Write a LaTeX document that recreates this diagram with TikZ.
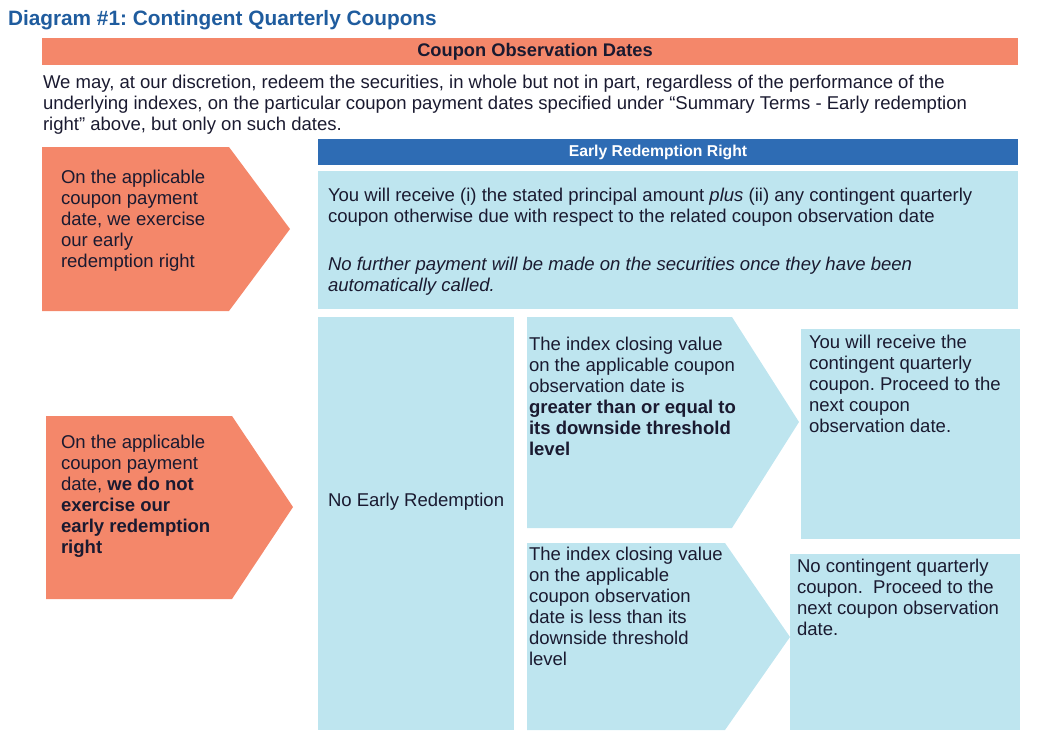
\documentclass[tikz,border=0pt]{standalone}
\usepackage{fontspec}
\setmainfont{Liberation Sans}
\definecolor{salmon}{RGB}{244,135,106}
\definecolor{lblue}{RGB}{190,229,239}
\definecolor{barblue}{RGB}{46,108,180}
\definecolor{titleblue}{RGB}{31,92,158}
\definecolor{txt}{RGB}{26,26,48}
\frenchspacing
\begin{document}
\begin{tikzpicture}[x=0.75pt,y=-0.75pt,
  every node/.style={inner sep=0pt, outer sep=0pt},
  body/.style={text=txt, align=left, anchor=north west, font=\fontsize{13.9}{15.75}\selectfont},
  orangefill/.style={fill=salmon},
  bluefill/.style={fill=lblue}]
\useasboundingbox (0,0) rectangle (1040,743);

% title
\node[anchor=base west, text=titleblue, font=\bfseries\fontsize{15.6}{18}\selectfont] (title) at (8,25) {Diagram \#1: Contingent Quarterly Coupons};

% header bar
\fill[orangefill] (42,38) rectangle (1018,65);
\node[text=txt, font=\bfseries\fontsize{13.7}{15.75}\selectfont] (hdr) at (535,52) {Coupon Observation Dates};

% paragraph
\node[body] (para) at (43,75) {We may, at our discretion, redeem the securities, in whole but not in part, regardless of the performance of the\\
underlying indexes, on the particular coupon payment dates specified under “Summary Terms - Early redemption\\
right” above, but only on such dates.};

% left pentagons
\fill[orangefill] (42,147) -- (229,147) -- (290,229) -- (229,311) -- (42,311) -- cycle;
\node[body] (ex) at (61,170) {On the applicable\\coupon payment\\date, we exercise\\our early\\redemption right};

\fill[orangefill] (46,416) -- (232,416) -- (293,507) -- (232,599) -- (46,599) -- cycle;
\node[body] (noex) at (61,435) {On the applicable\\coupon payment\\date, \textbf{we do not}\\\textbf{exercise our}\\\textbf{early redemption}\\\textbf{right}};

% early redemption right
\fill[barblue] (318,139) rectangle (1018,165);
\node[text=white, font=\bfseries\fontsize{11.8}{14}\selectfont] (err) at (658,152) {Early Redemption Right};

\fill[bluefill] (318,171) rectangle (1018,309);
\node[body] (recv) at (328,188) {You will receive (i) the stated principal amount \textit{plus} (ii) any contingent quarterly\\coupon otherwise due with respect to the related coupon observation date};
\node[body, font=\itshape\fontsize{13.9}{15.75}\selectfont] (nofurther) at (328,257) {No further payment will be made on the securities once they have been\\automatically called.};

% no early redemption
\fill[bluefill] (318,317) rectangle (514,730);
\node[body] (ner) at (328,493) {No Early Redemption};

% chevrons
\fill[bluefill] (527,317) -- (732,317) -- (799,422) -- (732,528) -- (527,528) -- cycle;
\node[body] (ge) at (529,337) {The index closing value\\on the applicable coupon\\observation date is\\\textbf{greater than or equal to}\\\textbf{its downside threshold}\\\textbf{level}};

\fill[bluefill] (527,543) -- (725,543) -- (790,637) -- (725,730) -- (527,730) -- cycle;
\node[body] (lt) at (529,547) {The index closing value\\on the applicable\\coupon observation\\date is less than its\\downside threshold\\level};

% outcomes
\fill[bluefill] (801,329) rectangle (1020,539);
\node[body] (yes) at (809,335) {You will receive the\\contingent quarterly\\coupon. Proceed to the\\next coupon\\observation date.};

\fill[bluefill] (790,554) rectangle (1020,730);
\node[body] (no) at (797,559) {No contingent quarterly\\coupon.\ \ Proceed to the\\next coupon observation\\date.};
\end{tikzpicture}
\end{document}
